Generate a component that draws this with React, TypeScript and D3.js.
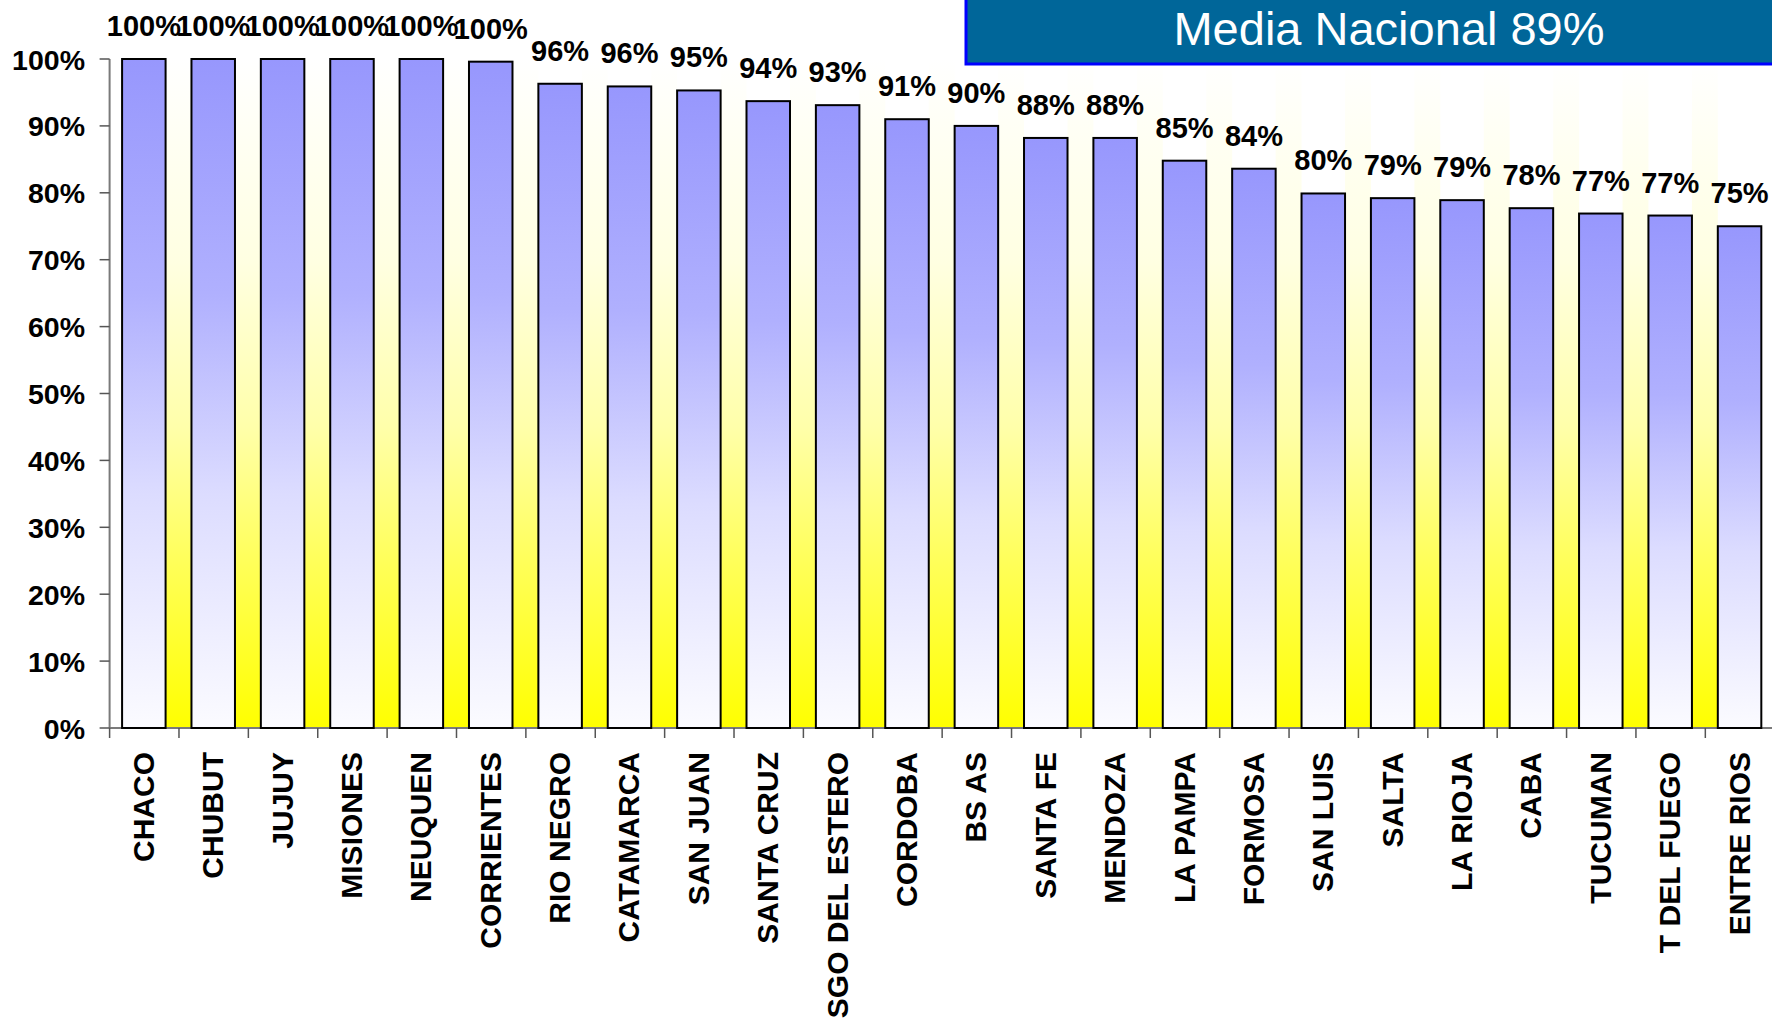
import React from "react";
import * as d3 from "d3";

const provinces = [
  "CHACO", "CHUBUT", "JUJUY", "MISIONES", "NEUQUEN", "CORRIENTES", "RIO NEGRO",
  "CATAMARCA", "SAN JUAN", "SANTA CRUZ", "SGO DEL ESTERO", "CORDOBA", "BS AS",
  "SANTA FE", "MENDOZA", "LA PAMPA", "FORMOSA", "SAN LUIS", "SALTA", "LA RIOJA",
  "CABA", "TUCUMAN", "T DEL FUEGO", "ENTRE RIOS",
];
const coverage = [
  1.0, 1.0, 1.0, 1.0, 1.0, 0.996, 0.963, 0.959, 0.953, 0.937, 0.931, 0.91, 0.90,
  0.882, 0.882, 0.848, 0.836, 0.799, 0.792, 0.789, 0.777, 0.769, 0.766, 0.75,
];
const yTicks = [0, 0.1, 0.2, 0.3, 0.4, 0.5, 0.6, 0.7, 0.8, 0.9, 1.0];
const nationalLabel = "Media Nacional 89%";

const W = 1772;
const H = 1031;
const FONT = "'Liberation Sans', Arial, Helvetica, sans-serif";

export default function App() {
  const x = d3
    .scaleBand<string>()
    .domain(provinces)
    .range([109.6, 1773.8])
    .paddingInner(0.373)
    .paddingOuter(0.18);
  const y = d3.scaleLinear().domain([0, 1]).range([728, 59]);
  const step = x.step();
  const bw = x.bandwidth();
  const x0 = 109.6;
  const fmt = (v: number) => `${Math.round(v * 100)}%`;

  return (
    <svg
      width={W}
      height={H}
      style={{ position: "absolute", left: 0, top: 0, background: "#fff" }}
    >
      <defs>
        <linearGradient id="barGrad" x1="0" y1="0" x2="0" y2="1">
          <stop offset="0" stopColor="#9797fd" />
          <stop offset="0.35" stopColor="#b0b0fe" />
          <stop offset="0.65" stopColor="#dcdcff" />
          <stop offset="1" stopColor="#fbfbff" />
        </linearGradient>
        <linearGradient
          id="gapGrad"
          gradientUnits="userSpaceOnUse"
          x1="0"
          y1={y(0)}
          x2="0"
          y2={y(1)}
        >
          <stop offset="0" stopColor="#ffff00" />
          <stop offset="0.25" stopColor="#ffff5a" />
          <stop offset="0.45" stopColor="#ffffaa" />
          <stop offset="0.7" stopColor="#ffffe2" />
          <stop offset="1" stopColor="#ffffff" />
        </linearGradient>
      </defs>

      {/* gaps between bars */}
      {provinces.slice(0, -1).map((p, i) => {
        const gx0 = (x(p) as number) + bw;
        const gx1 = x(provinces[i + 1]) as number;
        return (
          <rect
            key={"g" + p}
            x={gx0}
            y={y(1)}
            width={gx1 - gx0}
            height={y(0) - y(1)}
            fill="url(#gapGrad)"
          />
        );
      })}

      {/* axes */}
      <line x1={x0} x2={x0} y1={y(1)} y2={y(0)} stroke="#7a7a7a" strokeWidth={2} />
      <line x1={x0} x2={W + 5} y1={y(0)} y2={y(0)} stroke="#7a7a7a" strokeWidth={2} />
      {yTicks.map((t) => (
        <g key={"yt" + t}>
          <line x1={x0 - 10} x2={x0} y1={y(t)} y2={y(t)} stroke="#555" strokeWidth={1.5} />
          <text
            x={85}
            y={y(t) + 10.5}
            textAnchor="end"
            fontFamily={FONT}
            fontWeight="bold"
            fontSize={28.5}
            fill="#000"
          >
            {fmt(t)}
          </text>
        </g>
      ))}
      {d3.range(provinces.length + 1).map((k) => (
        <line
          key={"xt" + k}
          x1={x0 + k * step}
          x2={x0 + k * step}
          y1={y(0)}
          y2={y(0) + 10}
          stroke="#555"
          strokeWidth={1.5}
        />
      ))}

      {/* bars */}
      {provinces.map((p, i) => (
        <rect
          key={"b" + p}
          x={x(p)}
          y={y(coverage[i])}
          width={bw}
          height={y(0) - y(coverage[i])}
          fill="url(#barGrad)"
          stroke="#000"
          strokeWidth={2}
        />
      ))}

      {/* value labels */}
      {provinces.map((p, i) => (
        <text
          key={"v" + p}
          x={(x(p) as number) + bw / 2}
          y={y(coverage[i]) - 23}
          textAnchor="middle"
          fontFamily={FONT}
          fontWeight="bold"
          fontSize={29}
          fill="#000"
        >
          {fmt(coverage[i])}
        </text>
      ))}

      {/* category labels */}
      {provinces.map((p) => {
        const cx = (x(p) as number) + bw / 2 + 10;
        const cy = 752;
        return (
          <text
            key={"c" + p}
            transform={`translate(${cx},${cy}) rotate(-90)`}
            textAnchor="end"
            fontFamily={FONT}
            fontWeight="bold"
            fontSize={30}
            fill="#000"
          >
            {p}
          </text>
        );
      })}

      {/* national average box */}
      <rect
        x={966}
        y={-4}
        width={W - 966 + 10}
        height={68}
        fill="#006699"
        stroke="#0000ff"
        strokeWidth={3}
      />
      <text
        x={1389}
        y={45}
        textAnchor="middle"
        fontFamily={FONT}
        fontSize={47}
        fill="#ffffff"
      >
        {nationalLabel}
      </text>
    </svg>
  );
}
